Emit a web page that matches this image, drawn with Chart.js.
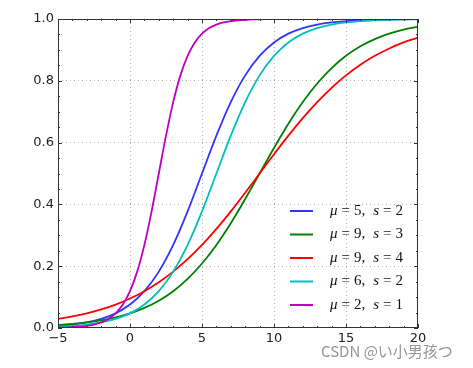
<!DOCTYPE html>
<html>
<head>
<meta charset="utf-8">
<script src="https://cdn.jsdelivr.net/npm/chart.js@4.4.1/dist/chart.umd.min.js"></script>
<style>
html,body{margin:0;padding:0;background:#fff;}
canvas{display:block;}
</style>
</head>
<body>
<canvas id="c" width="473" height="368"></canvas>
<script>
// x positions (step 1) for the four wider curves
const xs = [-5,-4,-3,-2,-1,0,1,2,3,4,5,6,7,8,9,10,11,12,13,14,15,16,17,18,19,20];
// x positions for the steep magenta curve
const xsFine = [-5,-4.5,-4,-3.5,-3,-2.5,-2,-1.5,-1,-0.5,0,0.5,1,1.5,2,2.5,3,3.5,4,4.5,5,5.5,6,6.5,7,7.5,8,8.5,9,9.5,10,12,14,16,18,20];

const blueY  = [0.0067,0.0110,0.0180,0.0293,0.0474,0.0759,0.1192,0.1824,0.2689,0.3775,0.5000,0.6225,0.7311,0.8176,0.8808,0.9241,0.9526,0.9707,0.9820,0.9890,0.9933,0.9959,0.9975,0.9985,0.9991,0.9994];
const greenY = [0.0093,0.0130,0.0180,0.0249,0.0344,0.0474,0.0650,0.0884,0.1192,0.1589,0.2086,0.2689,0.3392,0.4174,0.5000,0.5826,0.6608,0.7311,0.7914,0.8411,0.8808,0.9116,0.9350,0.9526,0.9656,0.9751];
const redY   = [0.0293,0.0373,0.0474,0.0601,0.0759,0.0953,0.1192,0.1480,0.1824,0.2227,0.2689,0.3208,0.3775,0.4378,0.5000,0.5622,0.6225,0.6792,0.7311,0.7773,0.8176,0.8520,0.8808,0.9047,0.9241,0.9399];
const cyanY  = [0.0041,0.0067,0.0110,0.0180,0.0293,0.0474,0.0759,0.1192,0.1824,0.2689,0.3775,0.5000,0.6225,0.7311,0.8176,0.8808,0.9241,0.9526,0.9707,0.9820,0.9890,0.9933,0.9959,0.9975,0.9985,0.9991];
const magentaY = [0.0009,0.0015,0.0025,0.0041,0.0067,0.0110,0.0180,0.0293,0.0474,0.0759,0.1192,0.1824,0.2689,0.3775,0.5000,0.6225,0.7311,0.8176,0.8808,0.9241,0.9526,0.9707,0.9820,0.9890,0.9933,0.9959,0.9975,0.9985,0.9991,0.9994,0.9997,1.0000,1.0000,1.0000,1.0000,1.0000];

const mus = [5, 9, 9, 6, 2];
const ss  = [2, 3, 4, 2, 1];
const colors = ['rgba(0,0,255,0.8)', '#008000', '#ff0000', '#00bfbf', '#bf00bf'];

const xTicks = [-5, 0, 5, 10, 15, 20];
const yTicks = [0.0, 0.2, 0.4, 0.6, 0.8, 1.0];

const seriesX = [xs, xs, xs, xs, xsFine];
const seriesY = [blueY, greenY, redY, cyanY, magentaY];

const datasets = seriesY.map((ys, i) => ({
  label: 'μ=' + mus[i] + ', s=' + ss[i],
  data: ys.map((y, k) => ({x: seriesX[i][k], y: y})),
  borderColor: colors[i],
  backgroundColor: colors[i],
  borderWidth: 1.8,
  pointRadius: 0,
  fill: false,
  cubicInterpolationMode: 'monotone',
  order: 5 - i
}));

const tickFont = {family: "'DejaVu Sans'", size: 13};

const frame = {
  id: 'frame',
  afterDatasetsDraw(chart) {
    const ctx = chart.ctx;
    const a = chart.chartArea;
    const sx = chart.scales.x, sy = chart.scales.y;
    ctx.save();
    // border
    ctx.strokeStyle = '#333';
    ctx.lineWidth = 1;
    ctx.setLineDash([]);
    ctx.strokeRect(Math.round(a.left) + 0.5, Math.round(a.top) + 0.5, Math.round(a.right - a.left) - 1, Math.round(a.bottom - a.top) - 1);
    // ticks inward
    ctx.beginPath();
    for (let v = -5; v <= 20; v += 1) {
      const px = Math.round(sx.getPixelForValue(v)) + 0.5;
      const len = (v % 5 === 0) ? 4 : 2;
      ctx.moveTo(px, a.bottom); ctx.lineTo(px, a.bottom - len);
      ctx.moveTo(px, a.top); ctx.lineTo(px, a.top + len);
    }
    for (let k = 0; k <= 20; k++) {
      const v = k * 0.05;
      const py = Math.round(sy.getPixelForValue(v)) + 0.5;
      const len = (k % 4 === 0) ? 4 : 2;
      ctx.moveTo(a.left, py); ctx.lineTo(a.left + len, py);
      ctx.moveTo(a.right, py); ctx.lineTo(a.right - len, py);
    }
    ctx.stroke();

    // legend
    const lx0 = 290, lx1 = 313, tx = 330, ly0 = 211, dy = 23.5;
    const it = "italic 15px 'Liberation Serif'";
    const up = "15px 'Liberation Serif'";
    chart.data.datasets.forEach((ds, i) => {
      const y = ly0 + i * dy;
      ctx.strokeStyle = colors[i];
      ctx.lineWidth = 2;
      ctx.beginPath(); ctx.moveTo(lx0, y); ctx.lineTo(lx1, y); ctx.stroke();
      const segs = [['μ', it, 4], ['=', up, 4], [String(mus[i]), up, 0], [',', up, 8], ['s', it, 4], ['=', up, 4], [String(ss[i]), up, 0]];
      let x = tx;
      ctx.fillStyle = '#111';
      ctx.textBaseline = 'middle';
      segs.forEach(s => {
        ctx.font = s[1];
        ctx.fillText(s[0], x, y);
        x += ctx.measureText(s[0]).width + s[2];
      });
    });

    // watermark
    ctx.font = "15px 'Noto Sans CJK SC'";
    ctx.fillStyle = 'rgba(130,130,130,0.85)';
    ctx.textBaseline = 'alphabetic';
    ctx.fillText('CSDN @い小男孩つ', 321, 357);
    ctx.restore();
  }
};

new Chart(document.getElementById('c'), {
  type: 'line',
  data: {datasets: datasets},
  options: {
    responsive: false,
    animation: false,
    devicePixelRatio: 1,
    layout: {padding: {top: 19, right: 55, left: 0, bottom: 0}},
    plugins: {legend: {display: false}, tooltip: {enabled: false}},
    scales: {
      x: {
        type: 'linear', min: -5, max: 20,
        afterBuildTicks: s => { s.ticks = xTicks.map(v => ({value: v})); },
        afterFit: s => { s.height = 40; },
        ticks: {
          callback: v => v < 0 ? '\u2212' + Math.abs(v) : String(v),
          font: tickFont, color: '#222', padding: 3, maxRotation: 0
        },
        grid: {drawTicks: false, color: c => (c.tick && (c.tick.value === -5 || c.tick.value === 20)) ? 'rgba(0,0,0,0)' : '#b0b0b0', lineWidth: 1},
        border: {display: false, dash: [1, 3]}
      },
      y: {
        type: 'linear', min: 0, max: 1,
        afterBuildTicks: s => { s.ticks = yTicks.map(v => ({value: v})); },
        afterFit: s => { s.width = 58; },
        ticks: {
          callback: v => v.toFixed(1),
          font: tickFont, color: '#222', padding: 4
        },
        grid: {drawTicks: false, color: c => (c.tick && (c.tick.value === 0 || c.tick.value === 1)) ? 'rgba(0,0,0,0)' : '#b0b0b0', lineWidth: 1},
        border: {display: false, dash: [1, 3]}
      }
    }
  },
  plugins: [frame]
});
</script>
</body>
</html>
